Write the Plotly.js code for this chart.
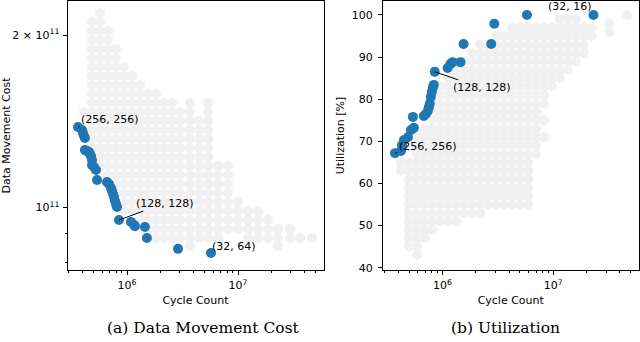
<!DOCTYPE html>
<html><head><meta charset="utf-8">
<script src="https://cdn.plot.ly/plotly-3.0.1.min.js"></script>
<style>html,body{margin:0;padding:0;background:#fff}#chart{width:640px;height:342px}</style>
</head><body><div id="chart"></div>
<script>
// Units: cycle counts in millions, data movement cost in 1e11, utilization in %.
// Grey (all design points), grouped by cycle count: [cycles, [values...]]
const greyCostCols = [
 [0.410,[1.468]],
 [0.484,[2.109,2.034,1.961,1.891,1.824,1.759,1.696,1.636,1.578,1.522,1.468,1.416,1.365,1.317,1.270]],
 [0.571,[2.186,2.109,2.034,1.961,1.891,1.824,1.759,1.696,1.636,1.578,1.522,1.468,1.416,1.365,1.317,1.270,1.224,1.181]],
 [0.674,[2.034,1.961,1.891,1.824,1.759,1.696,1.636,1.578,1.522,1.468,1.416,1.365,1.317,1.270,1.224,1.181,1.139]],
 [0.796,[1.891,1.824,1.759,1.696,1.636,1.578,1.522,1.468,1.416,1.365,1.317,1.270,1.224,1.181,1.139,1.098,1.059]],
 [0.940,[1.759,1.696,1.636,1.578,1.522,1.468,1.416,1.365,1.317,1.270,1.224,1.181,1.139,1.098,1.059,1.022,0.985]],
 [1.109,[1.696,1.636,1.578,1.522,1.468,1.416,1.365,1.317,1.270,1.224,1.181,1.139,1.098,1.059,1.022,0.985]],
 [1.310,[1.636,1.578,1.522,1.468,1.416,1.365,1.317,1.270,1.224,1.181,1.139,1.098,1.059,1.022,0.985,0.950]],
 [1.546,[1.578,1.522,1.468,1.416,1.365,1.317,1.270,1.224,1.181,1.139,1.098,1.059,1.022,0.985,0.950,0.916]],
 [1.825,[1.578,1.522,1.468,1.416,1.365,1.317,1.270,1.224,1.181,1.139,1.098,1.059,1.022,0.985,0.950,0.916,0.884]],
 [2.154,[1.522,1.468,1.416,1.365,1.317,1.270,1.224,1.181,1.139,1.098,1.059,1.022,0.985,0.950,0.916,0.884]],
 [2.543,[1.522,1.468,1.416,1.365,1.317,1.270,1.224,1.181,1.139,1.098,1.059,1.022,0.985,0.950,0.916,0.884]],
 [3.000,[1.468,1.416,1.365,1.317,1.270,1.224,1.181,1.139,1.098,1.059,1.022,0.985,0.950,0.916,0.884]],
 [3.690,[1.522,1.468,1.416,1.365,1.317,1.270,1.224,1.181,1.139,1.098,1.059,1.022,0.985,0.950,0.916,0.884,0.856]],
 [4.450,[1.416,1.365,1.317,1.270,1.224,1.181,1.139,1.098,1.059,1.022,0.985,0.950,0.916,0.884]],
 [5.370,[1.522,1.468,1.416,1.365,1.317,1.270,1.224,1.181,1.139,1.098,1.059,1.022,0.985,0.950,0.916,0.884]],
 [6.600,[1.181,1.139,1.098,1.059,1.022,0.985,0.950,0.916,0.884]],
 [8.120,[1.181,1.139,1.098,1.059,1.022,0.985,0.950,0.916]],
 [10.00,[1.022,0.985,0.950,0.916]],
 [12.30,[0.985,0.950,0.916,0.884]],
 [15.10,[0.985,0.950,0.916,0.884]],
 [18.60,[0.950,0.916,0.884]],
 [22.90,[0.916,0.884,0.856]],
 [29.40,[0.916,0.884]],
 [36.20,[0.884]],
 [46.40,[0.884]]
];
const greyUtilCols = [
 [0.423,[63,65]],
 [0.499,[45,47,49,51,53,55,57,59,61,63,65]],
 [0.589,[43,45,47,49,51,53,55,57,59,61,63,65,67,69,71]],
 [0.694,[47,49,51,53,55,57,59,61,63,65,67,69,71,73]],
 [0.819,[49,51,53,55,57,59,61,63,65,67,69,71,73,75,77,79]],
 [0.966,[51,53,55,57,59,61,63,65,67,69,71,73,75,77,79,81,83]],
 [1.139,[51,53,55,57,59,61,63,65,67,69,71,73,75,77,79,81,83,85]],
 [1.343,[51,53,55,57,59,61,63,65,67,69,71,73,75,77,79,81,83,85,87]],
 [1.584,[53,55,57,59,61,63,65,67,69,71,73,75,77,79,81,83,85,87,89]],
 [1.867,[53,55,57,59,61,63,65,67,69,71,73,75,77,79,81,83,85,87,89,91]],
 [2.203,[53,55,57,59,61,63,65,67,69,71,73,75,77,79,81,83,85,87,89,91,93]],
 [2.597,[55,57,59,61,63,65,67,69,71,73,75,77,79,81,83,85,87,89,91,93]],
 [3.063,[55,57,59,61,63,65,67,69,71,73,75,77,79,81,83,85,87,89,91,93,95]],
 [3.612,[55,57,59,61,63,65,67,69,71,73,75,77,79,81,83,85,87,89,91,93,95]],
 [4.260,[55,57,59,61,63,65,67,69,71,73,75,77,79,81,83,85,87,89,91,93,95,97]],
 [5.020,[55,57,59,61,63,65,67,69,71,73,75,77,79,81,83,85,87,89,91,93,95,97]],
 [5.930,[55,57,59,61,63,65,67,69,71,73,75,77,79,81,83,85,87,89,91,93,95,97]],
 [6.990,[67,69,71,73,75,77,79,81,83,85,87,89,91,93,95,97]],
 [8.240,[71,75,79,81,83,85,87,89,91,93,95,97]],
 [9.710,[83,85,87,89,91,93,95,97]],
 [11.46,[85,87,89,91,93,95,97,99]],
 [13.51,[87,89,91,93,95,97,99]],
 [15.94,[89,91,93,95,97,99]],
 [18.79,[91,93,95,97]],
 [22.16,[95,97]],
 [32.10,[96,98]],
 [46.60,[100]]
];
// Pareto-optimal designs (blue)
const paretoCostCycles = [0.362,0.393,0.401,0.410,0.418,0.418,0.436,0.455,0.464,0.474,0.484,0.484,0.504,0.526,0.537,0.660,0.688,0.718,0.733,0.748,0.764,0.780,0.796,0.813,0.847,1.086,1.156,1.180,1.450,1.510,2.880,5.710];
const paretoCost = [1.382,1.365,1.349,1.332,1.322,1.259,1.254,1.249,1.239,1.229,1.210,1.186,1.176,1.162,1.116,1.107,1.098,1.081,1.068,1.055,1.042,1.026,1.013,1.001,0.950,0.943,0.931,0.927,0.924,0.884,0.846,0.832];
const paretoUtilCycles = [0.374,0.423,0.432,0.450,0.489,0.520,0.553,0.542,0.680,0.709,0.738,0.754,0.769,0.786,0.802,0.819,0.836,0.853,1.115,1.186,1.236,1.458,1.552,2.760,2.940,5.800,23.10];
const paretoUtil = [67.2,67.7,69.1,70.3,71.0,72.7,73.2,75.8,76.0,76.5,77.2,78.1,78.9,80.5,81.7,82.7,83.4,86.5,87.4,88.4,88.8,88.8,93.1,93.1,97.9,100,100];
// labelled designs: [index into pareto arrays, label]
const costLabels = [[0,'(256, 256)'],[24,'(128, 128)'],[31,'(32, 64)']];
const utilLabels = [[0,'(256, 256)'],[17,'(128, 128)'],[26,'(32, 16)']];
const xTickVals = [1e6,1e7];
const xTickText = ['10<sup>6</sup>','10<sup>7</sup>'];
const xMinorVals = [3e5,4e5,5e5,6e5,7e5,8e5,9e5,2e6,3e6,4e6,5e6,6e6,7e6,8e6,9e6,2e7,3e7,4e7,5e7];
const costTickVals = [1e11,2e11];
const costTickText = ['10<sup>11</sup>','2 × 10<sup>11</sup>'];
const costMinorVals = [8e10,9e10];
const utilTickVals = [40,50,60,70,80,90,100];
const captions = ['(a) Data Movement Cost','(b) Utilization'];

function flatten(cols, xs, ys){ const X=[],Y=[]; cols.forEach(([c,vals])=>vals.forEach(v=>{X.push(c*xs);Y.push(v*ys);})); return [X,Y]; }
const [gcx,gcy] = flatten(greyCostCols,1e6,1e11);
const [gux,guy] = flatten(greyUtilCols,1e6,1);
const pcx = paretoCostCycles.map(v=>v*1e6), pcy = paretoCost.map(v=>v*1e11);
const pux = paretoUtilCycles.map(v=>v*1e6), puy = paretoUtil;

const GREY='#f0f0f0', BLUE='#1f77b4';
const mk = c=>({color:c,size:10,line:{width:0}});
const traces = [
 {type:'scatter',mode:'markers',x:gcx,y:gcy,xaxis:'x',yaxis:'y',marker:mk(GREY),hoverinfo:'skip'},
 {type:'scatter',mode:'markers',x:pcx,y:pcy,xaxis:'x',yaxis:'y',marker:mk(BLUE),hoverinfo:'skip'},
 {type:'scatter',mode:'markers',x:gux,y:guy,xaxis:'x2',yaxis:'y2',marker:mk(GREY),hoverinfo:'skip'},
 {type:'scatter',mode:'markers',x:pux,y:puy,xaxis:'x2',yaxis:'y2',marker:mk(BLUE),hoverinfo:'skip'}
];
const FONT='DejaVu Sans';
const tickFont={family:FONT,size:11,color:'#000'};
const titleFont={family:FONT,size:11,color:'#000'};
const base={showline:true,mirror:true,linecolor:'#000',linewidth:1,ticks:'outside',ticklen:4,tickwidth:1,tickcolor:'#000',showgrid:false,zeroline:false,tickfont:tickFont};
const xax = (dom,anchor)=>Object.assign({},base,{domain:dom,anchor:anchor,type:'log',range:[5.464,7.77],tickmode:'array',tickvals:xTickVals,ticktext:xTickText,ticklabelstandoff:1,
  minor:{tickmode:'array',tickvals:xMinorVals,ticks:'outside',ticklen:2,tickwidth:1,tickcolor:'#000'},
  title:{text:'Cycle Count',font:titleFont,standoff:5}});
const YDOM=[1-270/342,1-1/342];
const layout = {
 width:640,height:342,margin:{l:0,r:0,t:0,b:0},paper_bgcolor:'#fff',plot_bgcolor:'#fff',showlegend:false,
 xaxis:xax([67.5/640,323.5/640],'y'),
 xaxis2:xax([383/640,638.5/640],'y2'),
 yaxis:Object.assign({},base,{domain:YDOM,anchor:'x',type:'log',range:[10.8904,11.3607],tickmode:'array',tickvals:costTickVals,ticktext:costTickText,ticklabelstandoff:1,
  minor:{tickmode:'array',tickvals:costMinorVals,ticks:'outside',ticklen:2,tickwidth:1,tickcolor:'#000'},
  title:{text:'Data Movement Cost',font:titleFont,standoff:3}}),
 yaxis2:Object.assign({},base,{domain:YDOM,anchor:'x2',range:[39.45,103.32],tickmode:'array',tickvals:utilTickVals,ticklabelstandoff:3,
  title:{text:'Utilization [%]',font:titleFont,standoff:4}}),
 annotations:[]
};
const annFont={family:FONT,size:11,color:'#000'};
const costOff=[[32,-7],[46,-17],[23,-7]];
costLabels.forEach(([i,t],k)=>layout.annotations.push({xref:'x',yref:'y',x:Math.log10(pcx[i]),y:Math.log10(pcy[i]),text:t,showarrow:true,arrowhead:0,arrowwidth:1,arrowcolor:'#000',standoff:0,ax:costOff[k][0],ay:costOff[k][1],font:annFont}));
const utilOff=[[33,-7],[47,16],[-23,-8]];
utilLabels.forEach(([i,t],k)=>layout.annotations.push({xref:'x2',yref:'y2',x:Math.log10(pux[i]),y:puy[i],text:t,showarrow:true,arrowhead:0,arrowwidth:1,arrowcolor:'#000',standoff:0,ax:utilOff[k][0],ay:utilOff[k][1],font:annFont}));
const capX=[203/640,505/640];
captions.forEach((t,k)=>layout.annotations.push({xref:'paper',yref:'paper',x:capX[k],y:1-328/342,xanchor:'center',yanchor:'middle',text:t,showarrow:false,font:{family:'DejaVu Serif',size:15.5,color:'#000'}}));
Plotly.newPlot('chart',traces,layout,{staticPlot:true,displayModeBar:false});
</script></body></html>
